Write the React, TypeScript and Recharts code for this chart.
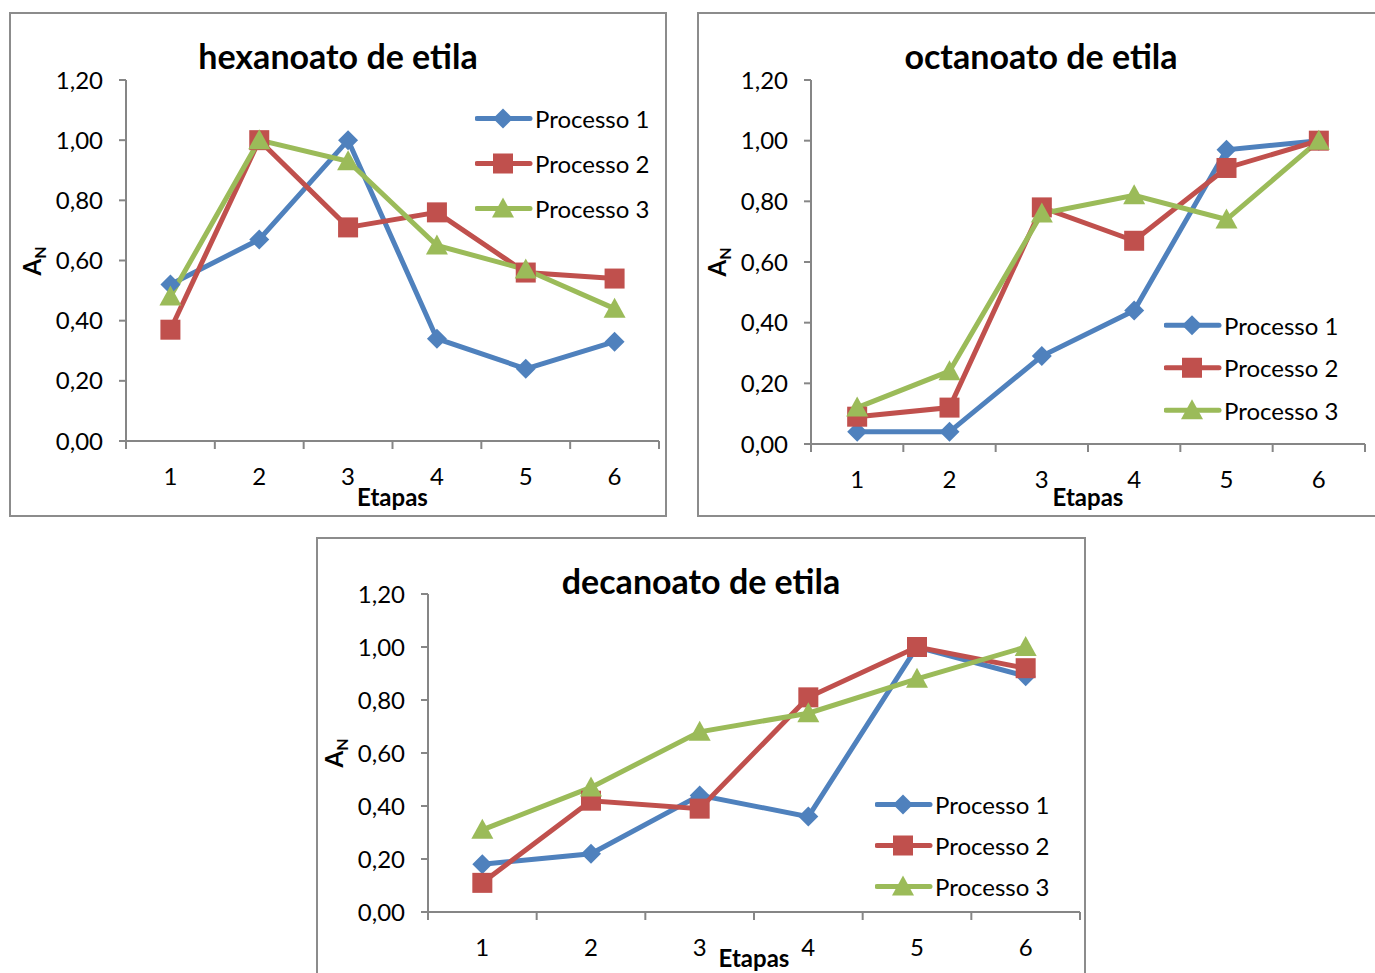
import React from 'react';
import { LineChart, Line, XAxis, YAxis, Legend } from 'recharts';

// ---------- data ----------
const etapas = [1, 2, 3, 4, 5, 6];
const seriesNames = ['Processo 1', 'Processo 2', 'Processo 3'];
const yTicks = [0, 0.2, 0.4, 0.6, 0.8, 1.0, 1.2];

const hexP1 = [0.52, 0.67, 1.0, 0.34, 0.24, 0.33];
const hexP2 = [0.37, 1.0, 0.71, 0.76, 0.56, 0.54];
const hexP3 = [0.48, 1.0, 0.93, 0.65, 0.57, 0.44];

const octP1 = [0.04, 0.04, 0.29, 0.44, 0.97, 1.0];
const octP2 = [0.09, 0.12, 0.78, 0.67, 0.91, 1.0];
const octP3 = [0.12, 0.24, 0.76, 0.82, 0.74, 1.0];

const decP1 = [0.18, 0.22, 0.44, 0.36, 1.0, 0.89];
const decP2 = [0.11, 0.42, 0.39, 0.81, 1.0, 0.92];
const decP3 = [0.31, 0.47, 0.68, 0.75, 0.88, 1.0];

// ---------- styles ----------
const FONT = 'Lato, "Open Sans", sans-serif';
const COLORS = ['#4F81BD', '#C0504D', '#9BBB59'];
const AXIS = '#868686';
const BORDER = '#8c8c8c';

const buildRows = (a: number[], b: number[], c: number[]) =>
  etapas.map((e, i) => ({ etapa: e, p1: a[i], p2: b[i], p3: c[i] }));

const xTicks = [...etapas.flatMap((e) => [e - 0.5, e]), etapas[etapas.length - 1] + 0.5];

function Marker({ shape, cx, cy, color }: any) {
  if (cx == null || cy == null) return null;
  if (shape === 0) {
    const s = 10;
    return (
      <polygon
        points={`${cx},${cy - s} ${cx + s},${cy} ${cx},${cy + s} ${cx - s},${cy}`}
        fill={color}
      />
    );
  }
  if (shape === 1) {
    const s = 10;
    return <rect x={cx - s} y={cy - s} width={2 * s} height={2 * s} fill={color} />;
  }
  return (
    <polygon points={`${cx},${cy - 11} ${cx + 11},${cy + 9} ${cx - 11},${cy + 9}`} fill={color} />
  );
}

const XTick = (props: any) => {
  const { x, y, payload } = props;
  const v = payload.value;
  if (Math.abs(v - Math.round(v)) > 0.01) {
    return <line x1={x} x2={x} y1={y - 8} y2={y} stroke={AXIS} strokeWidth={2} />;
  }
  return (
    <text x={x} y={y + 36} textAnchor="middle" fontSize={24} fill="#000" fontFamily={FONT}>
      {v}
    </text>
  );
};

type PanelProps = {
  title: string;
  rows: any[];
  box: { x: number; y: number; w: number; h: number };
  plot: { l: number; r: number; t: number; b: number };
  legend: { x: number; y: number; gap: number };
  etapasDy: number;
  showRight: boolean;
};

const Y_AXIS_W = 80;
const X_AXIS_H = 40;

function Panel({ title, rows, box, plot, legend, etapasDy, showRight }: PanelProps) {
  const margin = {
    left: plot.l - box.x - Y_AXIS_W,
    right: box.x + box.w - plot.r,
    top: plot.t - box.y,
    bottom: box.y + box.h - plot.b - X_AXIS_H,
  };
  const legendContent = () => (
    <svg width={220} height={legend.gap * 3} style={{ display: 'block' }}>
      {seriesNames.map((n, i) => {
        const cy = legend.gap / 2 + i * legend.gap;
        return (
          <g key={n}>
            <line x1={2} x2={55} y1={cy} y2={cy} stroke={COLORS[i]} strokeWidth={5} strokeLinecap="round" />
            <Marker shape={i} cx={28} cy={cy} color={COLORS[i]} />
            <text x={60} y={cy} dominantBaseline="central" fontSize={24} fontFamily={FONT} fill="#000">
              {n}
            </text>
          </g>
        );
      })}
    </svg>
  );
  const midX = (plot.l + plot.r) / 2 - box.x;
  const midY = (plot.t + plot.b) / 2 - box.y;
  return (
    <div
      style={{
        position: 'absolute',
        left: box.x,
        top: box.y,
        width: box.w,
        height: box.h,
        background: '#fff',
      }}
    >
      <div
        style={{
          position: 'absolute',
          inset: 0,
          borderTop: `2px solid ${BORDER}`,
          borderLeft: `2px solid ${BORDER}`,
          borderBottom: `2px solid ${BORDER}`,
          borderRight: showRight ? `2px solid ${BORDER}` : 'none',
          boxSizing: 'border-box',
          pointerEvents: 'none',
        }}
      />
      <LineChart width={box.w} height={box.h} data={rows} margin={margin}>
        <XAxis
          dataKey="etapa"
          type="number"
          domain={[0.5, 6.5]}
          ticks={xTicks}
          interval={0}
          height={X_AXIS_H}
          tickLine={false}
          tickSize={8}
          tickMargin={0}
          axisLine={{ stroke: AXIS, strokeWidth: 2 }}
          tick={(p: any) => <XTick {...p} />}
        />
        <YAxis
          type="number"
          domain={[0, 1.2]}
          ticks={yTicks}
          interval={0}
          width={Y_AXIS_W}
          tickSize={7}
          tickMargin={16}
          axisLine={{ stroke: AXIS, strokeWidth: 2 }}
          tickLine={{ stroke: AXIS, strokeWidth: 2 }}
          tick={{ fontSize: 24, fill: '#000', fontFamily: FONT }}
          tickFormatter={(v: number) => v.toFixed(2).replace('.', ',')}
        />
        {['p1', 'p2', 'p3'].map((k, i) => (
          <Line
            key={k}
            dataKey={k}
            name={seriesNames[i]}
            type="linear"
            stroke={COLORS[i]}
            strokeWidth={5}
            isAnimationActive={false}
            dot={(p: any) => (
              <Marker key={`${k}-${p.index}`} shape={i} cx={p.cx} cy={p.cy} color={COLORS[i]} />
            )}
            activeDot={false}
          />
        ))}
        <Legend
          layout="vertical"
          align="center"
          verticalAlign="middle"
          content={legendContent}
          wrapperStyle={{
            position: 'absolute',
            left: legend.x - box.x,
            top: legend.y - box.y - legend.gap / 2,
            width: 220,
            height: legend.gap * 3,
          }}
        />
      </LineChart>
      <div
        style={{
          position: 'absolute',
          left: 0,
          width: box.w,
          top: 44 - 20,
          height: 40,
          lineHeight: '40px',
          textAlign: 'center',
          fontFamily: FONT,
          fontWeight: 700,
          fontSize: 34,
          color: '#000',
          whiteSpace: 'nowrap',
        }}
      >
        {title}
      </div>
      <div
        style={{
          position: 'absolute',
          left: midX,
          top: plot.b - box.y + etapasDy,
          transform: 'translate(-50%, -50%)',
          fontFamily: FONT,
          fontWeight: 700,
          fontSize: 24,
          color: '#000',
          whiteSpace: 'nowrap',
          lineHeight: '26px',
        }}
      >
        Etapas
      </div>
      <div
        style={{
          position: 'absolute',
          left: plot.l - box.x - 90,
          top: midY,
          transform: 'translate(-50%, -50%) rotate(-90deg)',
          fontFamily: FONT,
          fontWeight: 700,
          fontSize: 24,
          color: '#000',
          whiteSpace: 'nowrap',
          lineHeight: '26px',
        }}
      >
        A<span style={{ fontSize: 16, verticalAlign: '-5px' }}>N</span>
      </div>
    </div>
  );
}

export default function App() {
  return (
    <div
      style={{
        position: 'absolute',
        left: 0,
        top: 0,
        width: 1375,
        height: 973,
        overflow: 'hidden',
        background: '#fff',
      }}
    >
      <Panel
        title="hexanoato de etila"
        rows={buildRows(hexP1, hexP2, hexP3)}
        box={{ x: 9, y: 12, w: 658, h: 505 }}
        plot={{ l: 126, r: 659, t: 80, b: 441 }}
        legend={{ x: 475, y: 118, gap: 45 }}
        etapasDy={56}
        showRight={true}
      />
      <Panel
        title="octanoato de etila"
        rows={buildRows(octP1, octP2, octP3)}
        box={{ x: 697, y: 12, w: 688, h: 505 }}
        plot={{ l: 811, r: 1365, t: 80, b: 444 }}
        legend={{ x: 1164, y: 325, gap: 42.5 }}
        etapasDy={53}
        showRight={false}
      />
      <Panel
        title="decanoato de etila"
        rows={buildRows(decP1, decP2, decP3)}
        box={{ x: 316, y: 537, w: 770, h: 470 }}
        plot={{ l: 428, r: 1080, t: 594, b: 912 }}
        legend={{ x: 875, y: 804, gap: 41 }}
        etapasDy={46}
        showRight={true}
      />
    </div>
  );
}
